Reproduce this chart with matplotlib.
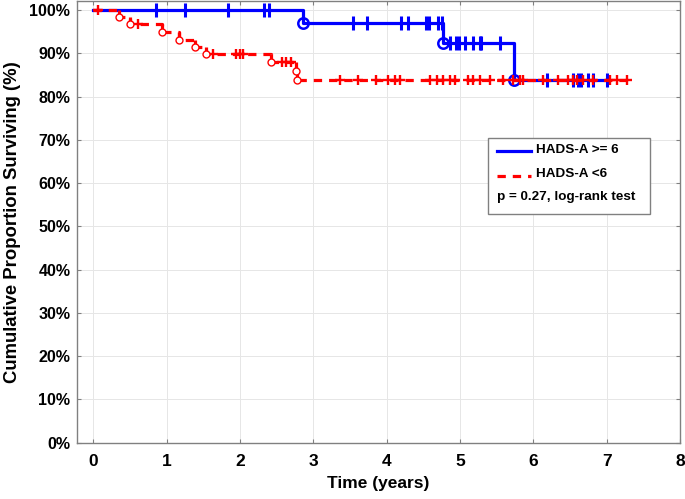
import numpy as np
import matplotlib
matplotlib.use("Agg")
import matplotlib.pyplot as plt
from matplotlib.lines import Line2D
from matplotlib.patches import Rectangle

plt.rcParams['font.family'] = ['Liberation Sans', 'DejaVu Sans']
plt.rcParams['font.weight'] = 'bold'
plt.rcParams['lines.scale_dashes'] = False

# HADS-A >= 6 (blue): event times, survival levels (%), censored times, last follow-up
blue_events = [2.86, 4.77, 5.73]
blue_levels = [100, 96.97, 92.35, 83.95]
blue_censored = [0.86, 1.25, 1.83, 2.33, 2.40, 3.54, 3.73, 4.19, 4.29, 4.54, 4.57,
                 4.70, 4.75, 4.86, 4.95, 4.99, 5.07, 5.17, 5.27, 5.29, 5.54,
                 6.18, 6.54, 6.61, 6.65, 6.75, 6.82, 7.00]
blue_end = 7.0

# HADS-A < 6 (red)
red_events = [0.35, 0.50, 0.93, 1.17, 1.38, 1.53, 2.42, 2.76, 2.77]
red_levels = [100, 98.45, 96.8, 94.85, 93.2, 91.5, 89.8, 87.9, 85.9, 83.8]
red_censored = [0.06, 0.61, 1.63, 1.95, 2.00, 2.04, 2.57, 2.63, 2.70,
                3.36, 3.61, 3.86, 4.02, 4.11, 4.18, 4.59, 4.69, 4.77, 4.86, 4.93,
                5.11, 5.18, 5.27, 5.41, 5.58, 5.72, 5.82, 5.86, 6.13, 6.34, 6.47,
                6.54, 6.59, 6.68, 6.82, 7.05, 7.14, 7.28]
red_end = 7.32

x_ticks = [0, 1, 2, 3, 4, 5, 6, 7, 8]
y_ticks = [0, 10, 20, 30, 40, 50, 60, 70, 80, 90, 100]


def km_curve(events, levels, end):
    x = [0] + list(events) + [end]
    y = list(levels) + [levels[-1]]
    return x, y


def level_at(events, levels, times):
    idx = np.searchsorted(events, times, side='right')
    return np.array(levels)[idx]


fig = plt.figure(figsize=(6.85, 4.99), dpi=100)
ax = fig.add_axes([77.3 / 685, (499 - 442.7) / 499, 602.7 / 685, 441.7 / 499])

grid_c = '#e6e6e6'
for v in x_ticks:
    ax.axvline(v, color=grid_c, lw=0.7, zorder=0)
for v in y_ticks:
    ax.axhline(v, color=grid_c, lw=0.7, zorder=0)

# blue group
bx, by = km_curve(blue_events, blue_levels, blue_end)
ax.plot(bx, by, drawstyle='steps-post', color='#0000ff', lw=2.3, zorder=3)
ax.plot(blue_censored, level_at(blue_events, blue_levels, blue_censored), ls='none',
        marker='|', ms=9.5, mew=2.2, color='#0000ff', zorder=3)
ax.plot(blue_events, blue_levels[1:], ls='none', marker='o', ms=7.5, mew=1.8,
        mfc='none', mec='#0000ff', zorder=3)

# red group
rx, ry = km_curve(red_events, red_levels, red_end)
ax.plot(rx, ry, drawstyle='steps-post', color='#ff0000', lw=2.3, dashes=(6, 5), zorder=4)
ax.vlines(red_events, red_levels[1:], red_levels[:-1], color='#ff0000', lw=2.3, zorder=4)
ax.plot(red_censored, level_at(red_events, red_levels, red_censored), ls='none',
        marker='+', ms=7.5, mew=1.7, color='#ff0000', zorder=4)
ax.plot(red_events, red_levels[1:], ls='none', marker='o', ms=5, mew=1.0,
        mfc='white', mec='#ff0000', zorder=4)

ax.set_xlim(-0.22, 8)
ax.set_ylim(0, 102.1)
ax.set_xticks(x_ticks)
ax.set_yticks(y_ticks)
ax.set_yticklabels([f'{v}%' for v in y_ticks])
ax.tick_params(direction='in', length=3, color='#808080', top=True, right=True,
               labeltop=False, labelright=False)
ax.tick_params(axis='y', labelsize=11.5, pad=5)
ax.tick_params(axis='x', labelsize=12.5, pad=8)
for s in ax.spines.values():
    s.set_color('#808080')
    s.set_linewidth(1.0)

ax.set_xlabel('Time (years)', fontsize=12.5, fontweight='bold', labelpad=5)
ax.set_ylabel('Cumulative Proportion Surviving (%)', fontsize=13.3, fontweight='bold', labelpad=6)

# legend box
ax.add_patch(Rectangle((0.681, 0.518), 0.269, 0.172, transform=ax.transAxes,
                       fill=True, fc='white', ec='#808080', lw=1.0, zorder=5))
ax.add_line(Line2D([0.696, 0.752], [0.660, 0.660], transform=ax.transAxes,
                   color='#0000ff', lw=2.3, zorder=6))
ax.add_line(Line2D([0.696, 0.752], [0.604, 0.604], transform=ax.transAxes,
                   color='#ff0000', lw=2.3, dashes=(6, 5), zorder=6))
ax.text(0.761, 0.662, 'HADS-A >= 6', transform=ax.transAxes, fontsize=9.7,
        fontweight='bold', va='center', ha='left', zorder=6)
ax.text(0.761, 0.608, 'HADS-A <6', transform=ax.transAxes, fontsize=9.7,
        fontweight='bold', va='center', ha='left', zorder=6)
ax.text(0.696, 0.556, 'p = 0.27, log-rank test', transform=ax.transAxes, fontsize=9.7,
        fontweight='bold', va='center', ha='left', zorder=6)

fig.savefig('out.png', dpi=100)
